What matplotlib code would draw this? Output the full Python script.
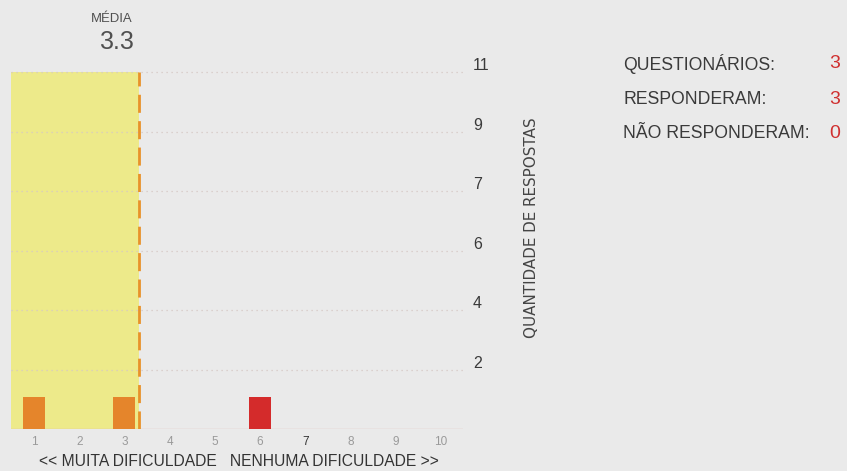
import matplotlib
matplotlib.use("Agg")
import matplotlib.pyplot as plt

plt.rcParams['font.family'] = ['Liberation Sans', 'DejaVu Sans']

# ---- data ----
categories = [1, 2, 3, 4, 5, 6, 7, 8, 9, 10]
counts = [1, 0, 1, 0, 0, 1, 0, 0, 0, 0]
bar_colors = ['#E5852B', '#E5852B', '#E5852B', '#E5852B', '#E5852B',
              '#D42B2B', '#D42B2B', '#D42B2B', '#D42B2B', '#D42B2B']
ytick_positions = [11/6, 22/6, 33/6, 44/6, 55/6, 11]
ytick_labels = ['2', '4', '6', '7', '9', '11']
mean_value = 3.33
mean_label = '3.3'
summary_labels = ['QUESTIONÁRIOS:', 'RESPONDERAM:', 'NÃO RESPONDERAM:']
summary_values = ['3', '3', '0']

W, H = 847, 471
BG = '#EAEAEA'
fig = plt.figure(figsize=(W/100, H/100), dpi=100, facecolor=BG)
renderer = fig.canvas.get_renderer()


def fit(t, target, along='w'):
    """scale a text's font size so its extent matches a target size in px"""
    for _ in range(3):
        bb = t.get_window_extent(renderer)
        cur = bb.width if along == 'w' else bb.height
        t.set_fontsize(t.get_fontsize() * target / cur)
    return t


ax = fig.add_axes([11.4/W, 42/H, 452/W, 357/H])
ax.set_facecolor('none')
ax.set_xlim(0.5, 10.5)
ax.set_ylim(0, 11)

# yellow mean area
ax.axvspan(0.5, mean_value, color='#EDEA8A', zorder=0, lw=0)

# dotted grid lines
for y in ytick_positions:
    ax.axhline(y, color='#D6C8C4', lw=0.9, ls=(0, (1, 3)), zorder=1, clip_on=False)

# baseline
ax.axhline(0, color='#E2B2A8', lw=0.9, zorder=1)

# bars
ax.bar(categories, counts, width=0.49, color=bar_colors, zorder=3)

# mean dashed line
ln = ax.plot([mean_value, mean_value], [0, 11], color='#E8922A', lw=2.0, zorder=4)[0]
ln.set_dashes((6.5, 3))

for s in ax.spines.values():
    s.set_visible(False)

ax.set_xticks(categories)
ax.set_xticklabels([str(c) for c in categories])
ax.tick_params(axis='x', length=0, pad=5, labelsize=8.5, labelcolor='#9A9A9A')
for lbl in ax.get_xticklabels():
    if lbl.get_text() == '7':
        lbl.set_color('#333333')
ax.set_yticks([])

# x axis caption
xl = fig.text(238.5/W, 1 - 461.5/H, '<< MUITA DIFICULDADE   NENHUMA DIFICULDADE >>',
              ha='center', va='center', fontsize=10, color='#333333')
fit(xl, 397)

# y tick labels on the right, sitting above their grid lines
for y, lab in zip(ytick_positions, ytick_labels):
    ax.annotate(lab, xy=(1.0, y), xycoords=('axes fraction', 'data'),
                xytext=(7, 4.5), textcoords='offset points', ha='left', va='center',
                fontsize=11.5, color='#3A3A3A', annotation_clip=False)

yl = fig.text(531/W, 1 - 228/H, 'QUANTIDADE DE RESPOSTAS', rotation=90,
              ha='center', va='center', fontsize=8, color='#444444',
              family=['DejaVu Sans'])
fit(yl, 220, along='h')

# mean label
m1 = fig.text(112/W, 1 - 19.5/H, 'MÉDIA', ha='center', va='center', fontsize=8, color='#505050')
fit(m1, 42)
m2 = fig.text(116/W, 1 - 42/H, mean_label, ha='center', va='center', fontsize=15, color='#505050')
fit(m2, 35)

# summary
fs = None
for i, (lab, val) in enumerate(zip(summary_labels, summary_values)):
    yy = 1 - (64 + 35 * i) / H
    t = fig.text(623/W, yy, lab, ha='left', va='center', fontsize=12, color='#3A3A3A')
    if fs is None:
        fit(t, 152)
        fs = t.get_fontsize()
    else:
        t.set_fontsize(fs)
    fig.text(835/W, yy, val, ha='center', va='center', fontsize=14, color='#D03030')

fig.savefig('out.png', dpi=100, facecolor=BG)
